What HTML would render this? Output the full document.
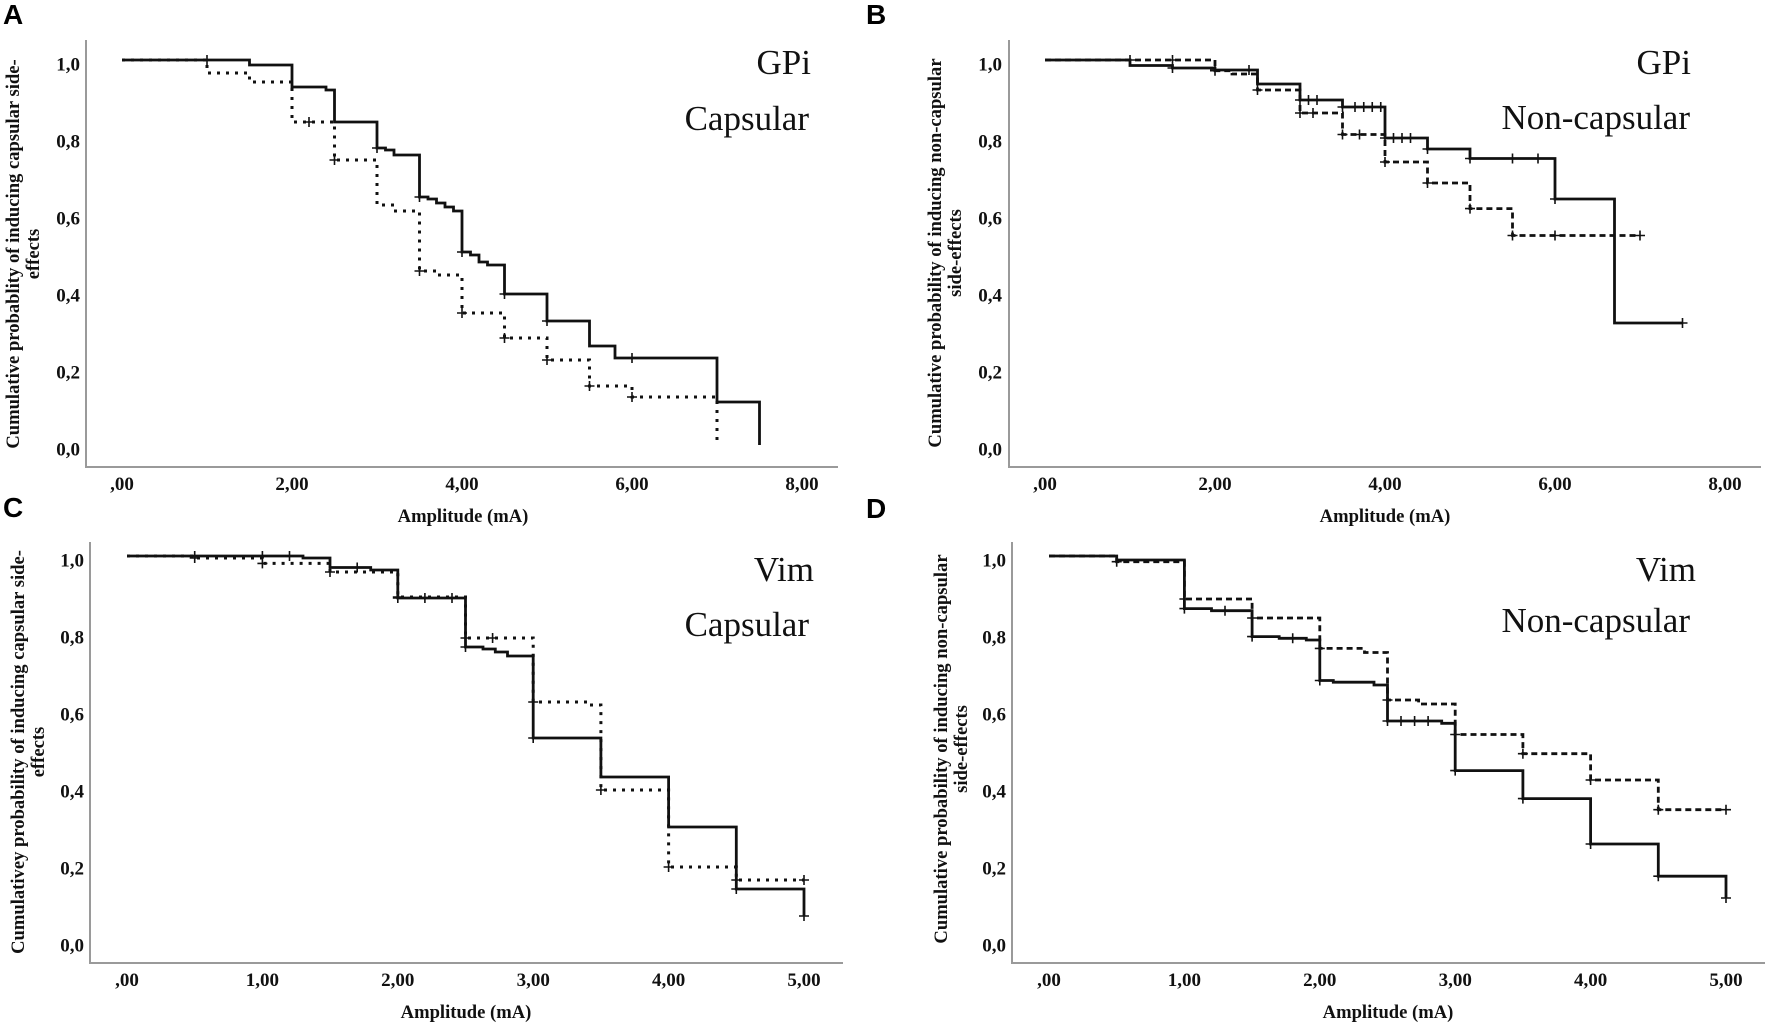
<!DOCTYPE html>
<html><head><meta charset="utf-8"><style>
html,body{margin:0;padding:0;background:#fff;}
svg{display:block;}
.ax{stroke:#9a9a9a;stroke-width:2;fill:none;}
.s{stroke:#111;stroke-width:2.8;fill:none;stroke-linejoin:miter;}
.dot{stroke:#111;stroke-width:3;fill:none;stroke-dasharray:3 6;}
.dsh{stroke:#111;stroke-width:2.8;fill:none;stroke-dasharray:6 4;}
.c{stroke:#111;stroke-width:1.6;fill:none;}
.tk{font-family:"Liberation Serif",serif;font-weight:bold;font-size:19px;fill:#111;}
.tt{font-family:"Liberation Serif",serif;font-weight:bold;font-size:18.6px;fill:#111;}
.big{font-family:"Liberation Serif",serif;font-size:35px;fill:#111;}
.let{font-family:"Liberation Sans",sans-serif;font-weight:bold;font-size:28px;fill:#000;}
</style></head><body>
<svg width="1772" height="1029" viewBox="0 0 1772 1029" xmlns="http://www.w3.org/2000/svg">
<rect width="1772" height="1029" fill="#fff"/>

<!-- Panel letters -->
<text class="let" x="3" y="24">A</text>
<text class="let" x="866" y="24">B</text>
<text class="let" x="3" y="517">C</text>
<text class="let" x="866" y="518">D</text>

<!-- ========== Panel A ========== -->
<path class="ax" d="M86,40 V467 H838"/>
<g class="tk" text-anchor="end">
<text x="80" y="70.5">1,0</text><text x="80" y="147.5">0,8</text><text x="80" y="224.5">0,6</text>
<text x="80" y="301.5">0,4</text><text x="80" y="378.5">0,2</text><text x="80" y="455.5">0,0</text>
</g>
<g class="tk" text-anchor="middle">
<text x="122" y="490">,00</text><text x="292" y="490">2,00</text><text x="462" y="490">4,00</text>
<text x="632" y="490">6,00</text><text x="802" y="490">8,00</text>
</g>
<text class="tt" x="463" y="522" text-anchor="middle">Amplitude (mA)</text>
<text class="tt" text-anchor="middle" transform="translate(19,254) rotate(-90)">Cumulative probablity of inducing capsular side-</text>
<text class="tt" text-anchor="middle" transform="translate(39,254) rotate(-90)">effects</text>
<text class="big" x="811" y="74" text-anchor="end">GPi</text>
<text class="big" x="809" y="130" text-anchor="end">Capsular</text>
<path class="dot" d="M122,60 H207 V73 H249.5 V82 H292 V122 H334.5 V160 H377 V205 H394 V211 H419.5 V271 H436.5 V275 H462 V313 H504.5 V338 H547 V360 H589.5 V386 H632 V397 H717 V445"/>
<path class="s" d="M122,60 H249.5 V65 H292 V87 H326 V90 H334.5 V122 H377 V148 H385.5 V150 H394 V155 H419.5 V197 H428 V199 H436.5 V203 H445 V207 H453.5 V211 H462 V252 H470.5 V255 H479 V262 H487.5 V265 H504.5 V294 H547 V321 H589.5 V346 H615 V358 H717 V402 H759.5 V445"/>
<path class="c" d="M372,148h10M377,143v10 M414.5,197h10M419.5,192v10 M457,252h10M462,247v10 M499.5,294h10M504.5,289v10 M542,321h10M547,316v10 M627,358h10M632,353v10
M202,60h10M207,55v10 M304,122h10M309,117v10 M329.5,160h10M334.5,155v10 M414.5,271h10M419.5,266v10 M457,313h10M462,308v10 M499.5,338h10M504.5,333v10 M542,360h10M547,355v10 M584.5,386h10M589.5,381v10 M627,397h10M632,392v10"/>

<!-- ========== Panel B ========== -->
<path class="ax" d="M1009,40 V467 H1761"/>
<g class="tk" text-anchor="end">
<text x="1002" y="70.5">1,0</text><text x="1002" y="147.5">0,8</text><text x="1002" y="224.5">0,6</text>
<text x="1002" y="301.5">0,4</text><text x="1002" y="378.5">0,2</text><text x="1002" y="455.5">0,0</text>
</g>
<g class="tk" text-anchor="middle">
<text x="1045" y="490">,00</text><text x="1215" y="490">2,00</text><text x="1385" y="490">4,00</text>
<text x="1555" y="490">6,00</text><text x="1725" y="490">8,00</text>
</g>
<text class="tt" x="1385" y="522" text-anchor="middle">Amplitude (mA)</text>
<text class="tt" text-anchor="middle" transform="translate(941,253) rotate(-90)">Cumulative probability of inducing non-capsular</text>
<text class="tt" text-anchor="middle" transform="translate(961,253) rotate(-90)">side-effects</text>
<text class="big" x="1691" y="74" text-anchor="end">GPi</text>
<text class="big" x="1690" y="129" text-anchor="end">Non-capsular</text>
<path class="dsh" d="M1045,60 H1215 V70.7 H1232 V74 H1257.5 V90 H1300 V113 H1342.5 V134.5 H1385 V162 H1427.5 V183 H1470 V208.6 H1512.5 V235.5 H1640"/>
<path class="s" d="M1045,60 H1130 V65.5 H1172.5 V68 H1215 V70 H1257.5 V84 H1300 V100 H1342.5 V107 H1385 V138 H1427.5 V149 H1470 V158.5 H1555 V199 H1614.5 V323 H1682.5"/>
<path class="c" d="M1167.5,68h10M1172.5,63v10 M1210,70h10M1215,65v10 M1244,70h10M1249,65v10 M1295,100h10M1300,95v10 M1303.5,100h10M1308.5,95v10 M1312,100h10M1317,95v10
M1337.5,107h10M1342.5,102v10 M1350,107h10M1355,102v10 M1358.75,107h10M1363.75,102v10 M1367.25,107h10M1372.25,102v10 M1375.75,107h10M1380.75,102v10
M1380,138h10M1385,133v10 M1388.5,138h10M1393.5,133v10 M1397,138h10M1402,133v10 M1405.5,138h10M1410.5,133v10
M1422.5,149h10M1427.5,144v10 M1465,158.5h10M1470,153.5v10 M1507.5,158.5h10M1512.5,153.5v10 M1533,158.5h10M1538,153.5v10 M1550,199h10M1555,194v10 M1677.5,323h10M1682.5,318v10
M1125,60h10M1130,55v10 M1167.5,60h10M1172.5,55v10 M1210,70.7h10M1215,65.7v10 M1252.5,90h10M1257.5,85v10 M1295,113h10M1300,108v10 M1308,113h10M1313,108v10
M1337.5,134.5h10M1342.5,129.5v10 M1354.5,134.5h10M1359.5,129.5v10 M1380,162h10M1385,157v10 M1422.5,183h10M1427.5,178v10 M1465,208.6h10M1470,203.6v10
M1507.5,235.5h10M1512.5,230.5v10 M1550,235.5h10M1555,230.5v10 M1635,235.5h10M1640,230.5v10"/>

<!-- ========== Panel C ========== -->
<path class="ax" d="M90,542 V963 H843"/>
<g class="tk" text-anchor="end">
<text x="84" y="566.5">1,0</text><text x="84" y="643.5">0,8</text><text x="84" y="720.5">0,6</text>
<text x="84" y="797.5">0,4</text><text x="84" y="874.5">0,2</text><text x="84" y="951.5">0,0</text>
</g>
<g class="tk" text-anchor="middle">
<text x="127" y="986">,00</text><text x="262.4" y="986">1,00</text><text x="397.8" y="986">2,00</text>
<text x="533.2" y="986">3,00</text><text x="668.6" y="986">4,00</text><text x="804" y="986">5,00</text>
</g>
<text class="tt" x="466" y="1018" text-anchor="middle">Amplitude (mA)</text>
<text class="tt" text-anchor="middle" transform="translate(24,752) rotate(-90)">Cumulativey probability of inducing capsular side-</text>
<text class="tt" text-anchor="middle" transform="translate(44,752) rotate(-90)">effects</text>
<text class="big" x="814" y="581" text-anchor="end">Vim</text>
<text class="big" x="809" y="636" text-anchor="end">Capsular</text>
<path class="dot" d="M127,556 H194.7 V558 H262.4 V563.4 H330 V572 H397.8 V597 H465.5 V638 H533.2 V702 H587.4 V705 H600.9 V790 H668.6 V867 H736.3 V880 H804"/>
<path class="s" d="M127,556 H303 V558 H330 V567.5 H370.7 V570 H397.8 V598 H465.5 V647 H483 V649 H495.3 V652 H507.5 V656 H533.2 V738 H600.9 V777 H668.6 V827 H736.3 V889 H804 V916"/>
<path class="c" d="M189.7,556h10M194.7,551v10 M257.4,556h10M262.4,551v10 M284.5,556h10M289.5,551v10 M352.2,567.5h10M357.2,562.5v10 M392.8,598h10M397.8,593v10 M419.9,598h10M424.9,593v10 M447,598h10M452,593v10 M460.5,647h10M465.5,642v10 M528.2,738h10M533.2,733v10 M731.3,889h10M736.3,884v10 M799,916h10M804,911v10
M189.7,558h10M194.7,553v10 M257.4,563.4h10M262.4,558.4v10 M325,572h10M330,567v10 M392.8,597h10M397.8,592v10 M460.5,638h10M465.5,633v10 M487.6,638h10M492.6,633v10 M528.2,702h10M533.2,697v10 M595.9,790h10M600.9,785v10 M663.6,867h10M668.6,862v10 M731.3,880h10M736.3,875v10 M799,880h10M804,875v10"/>

<!-- ========== Panel D ========== -->
<path class="ax" d="M1012,542 V963 H1765"/>
<g class="tk" text-anchor="end">
<text x="1006" y="566.5">1,0</text><text x="1006" y="643.5">0,8</text><text x="1006" y="720.5">0,6</text>
<text x="1006" y="797.5">0,4</text><text x="1006" y="874.5">0,2</text><text x="1006" y="951.5">0,0</text>
</g>
<g class="tk" text-anchor="middle">
<text x="1049" y="986">,00</text><text x="1184.4" y="986">1,00</text><text x="1319.8" y="986">2,00</text>
<text x="1455.2" y="986">3,00</text><text x="1590.6" y="986">4,00</text><text x="1726" y="986">5,00</text>
</g>
<text class="tt" x="1388" y="1018" text-anchor="middle">Amplitude (mA)</text>
<text class="tt" text-anchor="middle" transform="translate(947,749) rotate(-90)">Cumulative probability of inducing non-capsular</text>
<text class="tt" text-anchor="middle" transform="translate(967,749) rotate(-90)">side-effects</text>
<text class="big" x="1696" y="581" text-anchor="end">Vim</text>
<text class="big" x="1690" y="632" text-anchor="end">Non-capsular</text>
<path class="dsh" d="M1049,556 H1116.7 V561.7 H1184.4 V599 H1252.1 V618 H1319.8 V648.4 H1364.5 V652.5 H1387.5 V700 H1418.6 V704 H1455.2 V734.5 H1522.9 V753.7 H1590.6 V780 H1658.3 V809.7 H1726"/>
<path class="s" d="M1049,556 H1116.7 V560 H1184.4 V608.6 H1211.5 V610.7 H1252.1 V636.6 H1279.2 V638.3 H1306.3 V640 H1319.8 V680.5 H1333.3 V682.2 H1374 V685 H1387.5 V721 H1441.7 V723.3 H1455.2 V770.6 H1522.9 V798.6 H1590.6 V844 H1658.3 V876.2 H1726 V898"/>
<path class="c" d="M1179.4,608.6h10M1184.4,603.6v10 M1220,610.7h10M1225,605.7v10 M1247.1,636.6h10M1252.1,631.6v10 M1287.7,638.3h10M1292.7,633.3v10 M1314.8,680.5h10M1319.8,675.5v10
M1382.5,721h10M1387.5,716v10 M1396,721h10M1401,716v10 M1409.6,721h10M1414.6,716v10 M1423.1,721h10M1428.1,716v10 M1450.2,770.6h10M1455.2,765.6v10 M1517.9,798.6h10M1522.9,793.6v10
M1585.6,844h10M1590.6,839v10 M1653.3,876.2h10M1658.3,871.2v10 M1721,898h10M1726,893v10
M1111.7,561.7h10M1116.7,556.7v10 M1179.4,599h10M1184.4,594v10 M1247.1,618h10M1252.1,613v10 M1314.8,648.4h10M1319.8,643.4v10 M1382.5,700h10M1387.5,695v10
M1450.2,734.5h10M1455.2,729.5v10 M1517.9,753.7h10M1522.9,748.7v10 M1585.6,780h10M1590.6,775v10 M1653.3,809.7h10M1658.3,804.7v10 M1721,809.7h10M1726,804.7v10"/>
</svg>
</body></html>
